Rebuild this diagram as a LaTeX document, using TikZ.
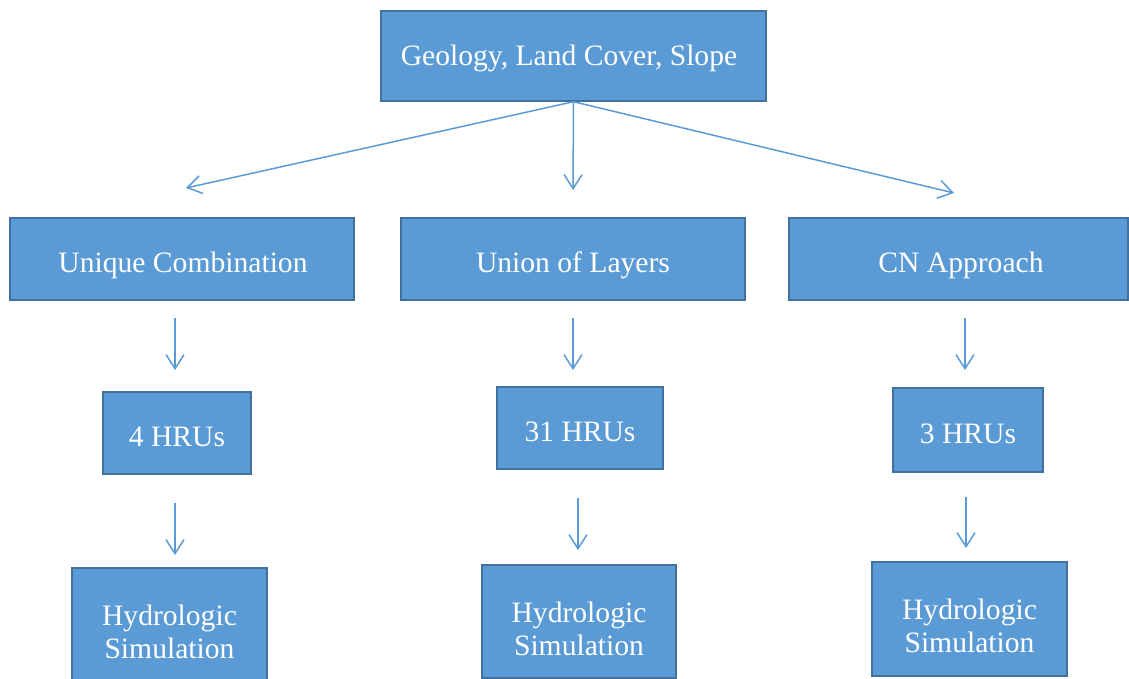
\documentclass[tikz,border=0pt]{standalone}
\usepackage{fontspec}
\setmainfont{Liberation Serif}
\usetikzlibrary{arrows.meta}
\definecolor{boxfill}{HTML}{5B9BD5}
\definecolor{boxline}{HTML}{41719C}
\definecolor{arr}{HTML}{5B9BD5}
\begin{document}
\begin{tikzpicture}[x=0.5pt,y=-0.5pt,
  box/.style={draw=boxline, line width=0.7pt, fill=boxfill, inner sep=0pt, anchor=center},
  lbl/.style={text=white, font=\fontsize{14.8}{16.5}\selectfont, align=center, inner sep=0pt, anchor=center},
  conn/.style={draw=arr, line width=0.75pt, -{Straight Barb[length=7pt,width=9pt]}}]
\useasboundingbox (0,0) rectangle (1129,679);
\clip (0,0) rectangle (1129,679);
% top
\node[box, minimum width=192.5pt, minimum height=45pt] (top) at (573.5,56) {};
\node[lbl] (topt) at (569,59.2) {\strut Geology, Land Cover, Slope};
% row 2
\node[box, minimum width=172pt, minimum height=41pt] (uc) at (182,259) {};
\node[box, minimum width=172pt, minimum height=41pt] (ul) at (573,259) {};
\node[box, minimum width=169.5pt, minimum height=41pt] (cn) at (958.5,259) {};
\node[lbl] (uct) at (183,266) {\strut Unique Combination};
\node[lbl] (ult) at (573,266) {\strut Union of Layers};
\node[lbl] (cnt) at (961,266) {\strut CN Approach};
% row 3
\node[box, minimum width=74pt, minimum height=41pt] (h4) at (177,433) {};
\node[box, minimum width=83pt, minimum height=41pt] (h31) at (580,428) {};
\node[box, minimum width=75pt, minimum height=42pt] (h3) at (968,430) {};
\node[lbl] (h4t) at (177,440) {\strut 4 HRUs};
\node[lbl] (h31t) at (580,435) {\strut 31 HRUs};
\node[lbl] (h3t) at (968,437) {\strut 3 HRUs};
% row 4
\node[box, minimum width=97.5pt, minimum height=57pt] (s1) at (169.5,625) {};
\node[box, minimum width=97pt, minimum height=56.5pt] (s2) at (579,621.5) {};
\node[box, minimum width=97.5pt, minimum height=57pt] (s3) at (969.5,619) {};
\node[lbl] (t1) at (169.5,632) {Hydrologic\\Simulation};
\node[lbl] (t2) at (579,628.5) {Hydrologic\\Simulation};
\node[lbl] (t3) at (969.5,626) {Hydrologic\\Simulation};
% arrow coordinates
\coordinate (e1) at (186,188);
\coordinate (e2) at (573,190);
\coordinate (e3) at (954,193);
\coordinate (b1s) at (175,318); \coordinate (b1e) at (175,370);
\coordinate (b2s) at (573,318); \coordinate (b2e) at (573,370);
\coordinate (b3s) at (965,318); \coordinate (b3e) at (965,370);
\coordinate (c1s) at (175,503); \coordinate (c1e) at (175,555);
\coordinate (c2s) at (578,498); \coordinate (c2e) at (578,550);
\coordinate (c3s) at (966,497); \coordinate (c3e) at (966,548);
\draw[conn] (top.south) -- (e1);
\draw[conn] (top.south) -- (e2);
\draw[conn] (top.south) -- (e3);
\draw[conn] (b1s) -- (b1e);
\draw[conn] (b2s) -- (b2e);
\draw[conn] (b3s) -- (b3e);
\draw[conn] (c1s) -- (c1e);
\draw[conn] (c2s) -- (c2e);
\draw[conn] (c3s) -- (c3e);
\end{tikzpicture}
\end{document}
